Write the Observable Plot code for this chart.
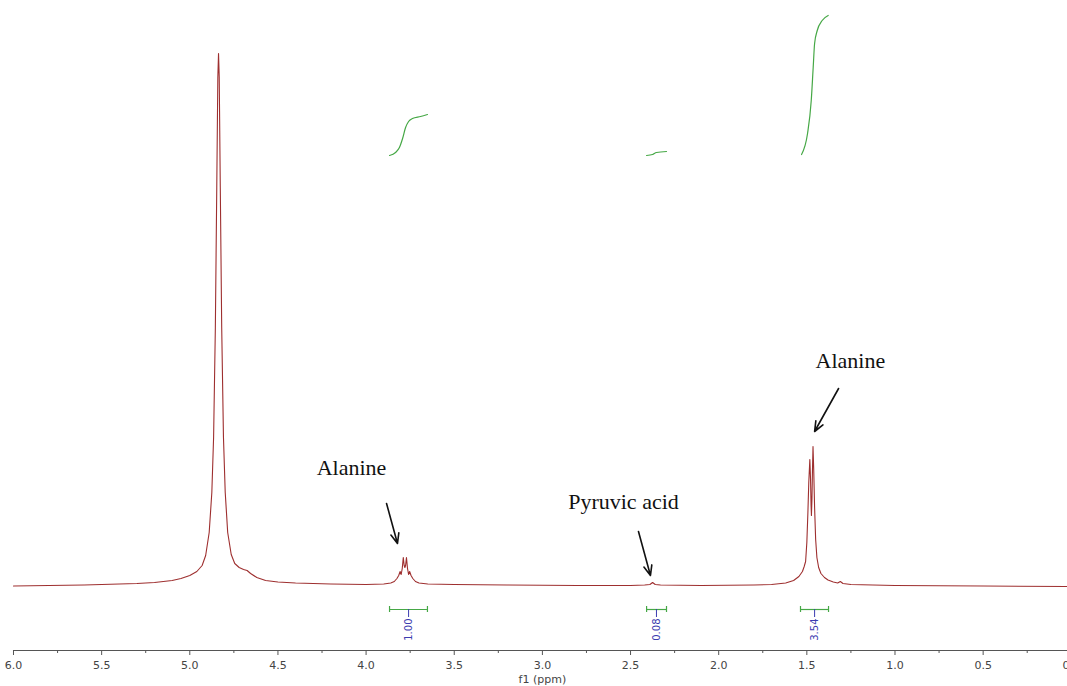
<!DOCTYPE html>
<html><head><meta charset="utf-8">
<script src="https://cdn.jsdelivr.net/npm/d3@7"></script>
<script src="https://cdn.jsdelivr.net/npm/@observablehq/plot@0.6"></script>
<style>body{margin:0;background:#fff;} #chart svg{display:block;}</style>
</head><body><div id="chart"></div>
<script>
// 1H NMR spectrum: chemical shift (ppm) and intensity (arb.)
const shiftPpm = [6.00,5.80,5.60,5.40,5.30,5.20,5.10,5.05,5.00,4.96,4.93,4.91,4.89,4.875,4.865,4.855,4.847,4.841,4.837,4.833,4.827,4.819,4.809,4.799,4.785,4.765,4.745,4.72,4.695,4.675,4.655,4.62,4.57,4.50,4.40,4.20,4.00,3.90,3.86,3.84,3.825,3.815,3.807,3.801,3.795,3.789,3.784,3.780,3.776,3.771,3.765,3.759,3.753,3.745,3.735,3.72,3.70,3.65,3.50,3.20,2.80,2.50,2.42,2.39,2.375,2.36,2.33,2.10,1.80,1.70,1.62,1.575,1.545,1.525,1.515,1.507,1.500,1.494,1.489,1.483,1.479,1.476,1.474,1.471,1.468,1.465,1.461,1.456,1.450,1.443,1.433,1.42,1.40,1.38,1.35,1.325,1.31,1.295,1.25,1.00,0.50,0.00];
const signal   = [1.5,2,2.5,3.5,4,5,7,9,12,16,22,32,55,95,150,260,400,510,534,510,400,260,150,95,55,33,24,20,18,17,14,10,7,5.5,4.5,3.5,3,3.5,4.5,6,9,12,16,13,19,30,22,20,22,30,19,13,16,12,9,6,4.5,3.5,3,2.5,2,2,2.5,3,5,3,2.5,2,2.5,3,4.5,7,11,16,21,26,45,75,105,128,108,82,72,88,118,141,118,80,48,30,20,14,10,7.5,5.5,4.5,6,4,3,2,1.5,1];

// integral curves
const int1Ppm = [3.867,3.833,3.811,3.793,3.776,3.759,3.737,3.691,3.652];
const int1Val = [432,435,440,449,460,466,469,471,473];
const int2Ppm = [2.409,2.375,2.353,2.296];
const int2Val = [432,433,435,436];
const int3Ppm = [1.530,1.496,1.475,1.464,1.456,1.441,1.413,1.379];
const int3Val = [433,454,487,520,544,557,567,572];

// integration brackets
const integFrom   = [3.867,2.409,1.536];
const integTo     = [3.652,2.296,1.377];
const integCenter = [3.759,2.353,1.456];
const integLabel  = ["1.00","0.08","3.54"];

// annotations
const noteText = ["Alanine","Pyruvic acid","Alanine"];
const notePpm  = [4.083,2.540,1.253];
const noteVal  = [120,86,227];
const arrowFromPpm = [3.884,2.455,1.320];
const arrowFromVal = [84,56,199];
const arrowToPpm   = [3.822,2.387,1.456];
const arrowToVal   = [44,12,156];

// axis ticks
const tickValues = [6.0,5.5,5.0,4.5,4.0,3.5,3.0,2.5,2.0,1.5,1.0,0.5,0.0];
const tickLabels = ["6.0","5.5","5.0","4.5","4.0","3.5","3.0","2.5","2.0","1.5","1.0","0.5","0.0"];
const minorTicks = [5.75,5.25,4.75,4.25,3.75,3.25,2.75,2.25,1.75,1.25,0.75,0.25];
const axisTitle = "f1 (ppm)";

const spectrum = shiftPpm.map((x,i)=>({x, y: signal[i]}));
const mk = (xs, ys) => xs.map((x,i)=>({x, y: ys[i]}));
const integrals = [mk(int1Ppm,int1Val), mk(int2Ppm,int2Val), mk(int3Ppm,int3Val)];
const brackets = integFrom.map((f,i)=>({from:f, to:integTo[i], center:integCenter[i], label:integLabel[i]}));
const notes = noteText.map((t,i)=>({t, x:notePpm[i], y:noteVal[i]}));
const arrows = arrowFromPpm.map((x,i)=>({x1:x, y1:arrowFromVal[i], x2:arrowToPpm[i], y2:arrowToVal[i]}));
const labelMap = new Map(tickValues.map((v,i)=>[v, tickLabels[i]]));

const bracketY = -22;
const green = "#46a846";
const blue = "#3c3cb0";

const chart = Plot.plot({
  width: 1067, height: 686,
  marginLeft: 0, marginRight: 0, marginTop: 0, marginBottom: 36,
  style: {background: "#fff", overflow: "visible"},
  x: {domain: [6.0737, 0.0215]},
  y: {domain: [-63, 587], axis: null},
  marks: [
    Plot.ruleY([-63], {x1: 6.0, x2: 0.0, stroke: "#555"}),
    Plot.axisX({ticks: minorTicks, tickSize: 3, tickFormat: () => "", stroke: "#555"}),
    Plot.axisX({ticks: tickValues, tickSize: 5, tickPadding: 6, tickFormat: d => labelMap.get(d),
      fontSize: 11, fontFamily: "DejaVu Sans, Verdana, sans-serif", fill: "#444", stroke: "#555", label: null}),
    Plot.text([axisTitle], {x: 3.0, y: -63, dy: 29, text: d => d, fontSize: 11,
      fontFamily: "DejaVu Sans, Verdana, sans-serif", fill: "#444"}),
    Plot.line(spectrum, {x: "x", y: "y", stroke: "#9e2f2f", strokeWidth: 1.1}),
    ...integrals.map(d => Plot.line(d, {x: "x", y: "y", stroke: green, strokeWidth: 1.2, curve: "monotone-x"})),
    Plot.ruleY(brackets, {y: bracketY, x1: "from", x2: "to", stroke: green, strokeWidth: 1.2}),
    Plot.ruleX(brackets, {x: "from", y1: bracketY - 3, y2: bracketY + 3, stroke: green, strokeWidth: 1.2}),
    Plot.ruleX(brackets, {x: "to", y1: bracketY - 3, y2: bracketY + 3, stroke: green, strokeWidth: 1.2}),
    Plot.ruleX(brackets, {x: "center", y1: bracketY, y2: bracketY - 8, stroke: blue, strokeWidth: 1}),
    Plot.text(brackets, {x: "center", y: bracketY - 9, text: "label", rotate: -90, textAnchor: "end",
      fontSize: 10, fontFamily: "DejaVu Sans, Verdana, sans-serif", fill: blue}),
    Plot.arrow(arrows, {x1: "x1", y1: "y1", x2: "x2", y2: "y2", stroke: "#111", strokeWidth: 1.6,
      headLength: 10, headAngle: 45}),
    Plot.text(notes, {x: "x", y: "y", text: "t", fontSize: 22, fontFamily: "Liberation Serif, Times New Roman, serif", fill: "#111"})
  ]
});
document.getElementById("chart").appendChild(chart);
</script>
</body></html>
